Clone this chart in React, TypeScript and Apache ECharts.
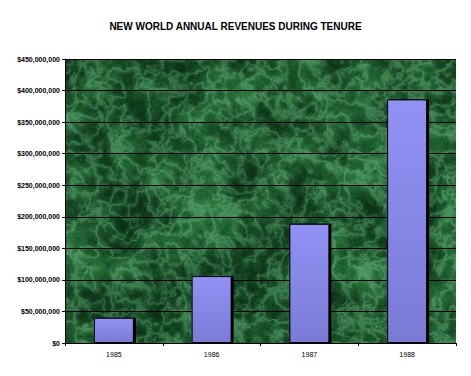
import React, { useEffect, useRef } from "react";
import * as echarts from "echarts";

const categories = ["1985", "1986", "1987", "1988"];
const revenues = [40000000, 106000000, 189000000, 386000000];
const yMax = 450000000;
const yInterval = 50000000;
const titleText = "NEW WORLD ANNUAL REVENUES DURING TENURE";

function hash(x: number, y: number, s: number) {
  let h = (x * 374761393 + y * 668265263 + s * 1442695041) | 0;
  h = ((h ^ (h >>> 13)) * 1274126177) | 0;
  h = h ^ (h >>> 16);
  return (h >>> 0) / 4294967295;
}
function vnoise(x: number, y: number, s: number) {
  const xi = Math.floor(x), yi = Math.floor(y);
  const xf = x - xi, yf = y - yi;
  const u = xf * xf * (3 - 2 * xf), v = yf * yf * (3 - 2 * yf);
  const a = hash(xi, yi, s), b = hash(xi + 1, yi, s);
  const c = hash(xi, yi + 1, s), d = hash(xi + 1, yi + 1, s);
  return a + (b - a) * u + (c - a) * v + (a - b - c + d) * u * v;
}
function fbm(x: number, y: number, s: number) {
  let sum = 0, amp = 0.5, f = 1;
  for (let i = 0; i < 5; i++) {
    sum += amp * vnoise(x * f, y * f, s + i);
    amp *= 0.5;
    f *= 2;
  }
  return sum;
}
function makeTexture(w: number, h: number) {
  const cv = document.createElement("canvas");
  cv.width = w;
  cv.height = h;
  const ctx = cv.getContext("2d")!;
  const img = ctx.createImageData(w, h);
  for (let y = 0; y < h; y++) {
    for (let x = 0; x < w; x++) {
      const t = fbm(x / 30, y / 30, 1);
      const n2 = fbm(x / 12 + t * 1.5, y / 12 + t * 1.5, 7);
      const r = 1 - Math.abs(2 * n2 - 1);
      const vein = Math.pow(r, 5) * (0.4 + t);
      const grain = (vnoise(x / 1.3, y / 1.3, 11) - 0.5) * 0.35;
      const base = Math.min(1, Math.max(0, (t - 0.3) * 1.8 + grain));
      let R = 10 + 28 * base;
      let G = 50 + 65 * base;
      let B = 22 + 34 * base;
      const k = Math.min(1, vein * 0.9);
      R += (78 - R) * k;
      G += (150 - G) * k;
      B += (98 - B) * k;
      const i = (y * w + x) * 4;
      img.data[i] = R;
      img.data[i + 1] = G;
      img.data[i + 2] = B;
      img.data[i + 3] = 255;
    }
  }
  ctx.putImageData(img, 0, 0);
  return cv;
}

export default function App() {
  const ref = useRef<HTMLDivElement>(null);
  useEffect(() => {
    if (!ref.current) return;
    const chart = echarts.init(ref.current, null, { renderer: "svg" });
    const tex = makeTexture(471, 376);
    chart.setOption({
      animation: false,
      backgroundColor: "#ffffff",
      title: {
        text: titleText,
        left: "center",
        top: 16,
        textStyle: {
          fontFamily: "Liberation Sans",
          fontSize: 10,
          fontWeight: "bold",
          color: "#000",
        },
      },
      grid: {
        left: 65,
        right: 15,
        top: 59,
        bottom: 33,
        show: true,
        borderWidth: 0,
        backgroundColor: { image: tex, repeat: "no-repeat" },
      },
      xAxis: {
        type: "category",
        data: categories,
        boundaryGap: true,
        axisLine: { lineStyle: { color: "#000", width: 1 } },
        axisTick: { show: true, length: 3, lineStyle: { color: "#000" } },
        axisLabel: {
          fontFamily: "Liberation Sans",
          fontSize: 7,
          color: "#000",
          margin: 8,
        },
        splitLine: { show: false },
      },
      yAxis: {
        type: "value",
        min: 0,
        max: yMax,
        interval: yInterval,
        axisLine: { show: true, lineStyle: { color: "#000", width: 1 } },
        axisTick: { show: true, length: 3, lineStyle: { color: "#000" } },
        axisLabel: {
          fontFamily: "Liberation Sans",
          fontSize: 7,
          fontWeight: "bold",
          color: "#000",
          margin: 5,
          formatter: (v: number) => "$" + v.toLocaleString("en-US"),
        },
        splitLine: { show: true, lineStyle: { color: "#000", width: 1 } },
      },
      series: [
        {
          type: "bar",
          data: revenues,
          barWidth: 40,
          itemStyle: {
            color: new echarts.graphic.LinearGradient(0, 0, 0, 1, [
              { offset: 0, color: "#9292f6" },
              { offset: 1, color: "#7a7ad6" },
            ]),
            borderColor: "#000",
            borderWidth: 1,
            shadowColor: "#000",
            shadowOffsetX: 2,
            shadowOffsetY: 0,
            shadowBlur: 0,
          },
        },
      ],
    });
    return () => chart.dispose();
  }, []);
  return <div ref={ref} style={{ width: 471, height: 376, position: "absolute", left: 0, top: 0 }} />;
}
